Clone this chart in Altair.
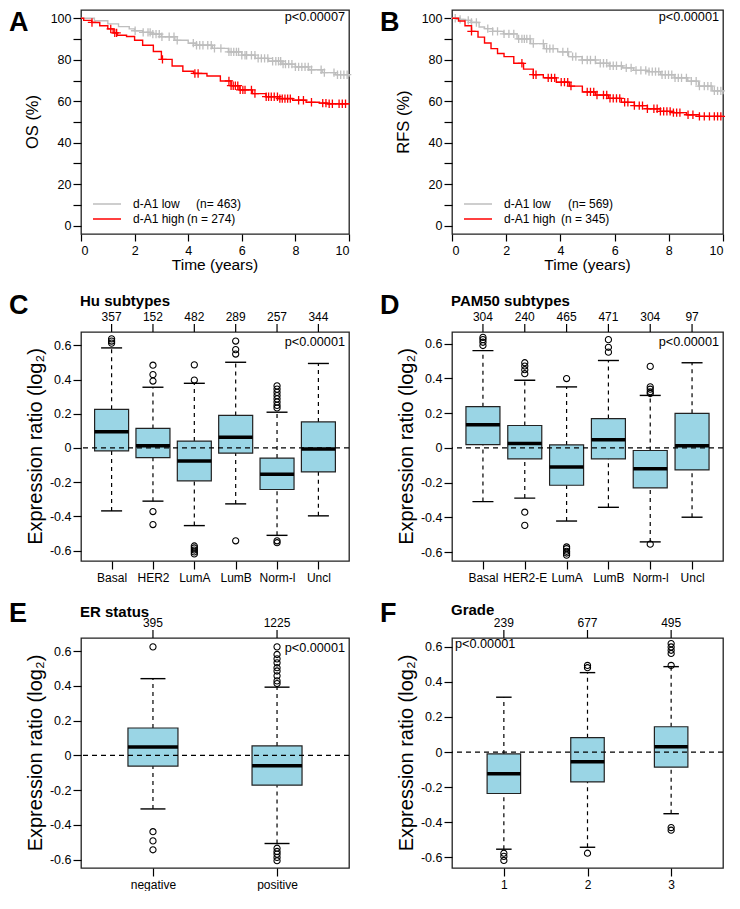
import altair as alt
import numpy as np
import pandas as pd

FONT = "Liberation Sans"
GREY = "#bebebe"
RED = "#ff0000"
BOXFILL = "#9ad5e5"
PLUS = "M-1,0L1,0M0,-1L0,1"

# ---------------- A: overall survival (OS) ----------------
os_low_t = [0, 0.5, 1.0, 1.4, 1.8, 2.0, 2.3, 2.6, 3.0, 3.5, 4.0, 4.3, 4.9, 5.5, 6.0, 6.5, 7.0, 7.5, 8.0, 8.5, 9.0, 9.5, 10.0]
os_low_s = [100, 98.8, 97.3, 96.0, 94.9, 94.0, 93.2, 92.4, 91.1, 89.4, 88.0, 87.0, 85.5, 83.8, 82.2, 80.7, 79.3, 77.9, 76.6, 75.2, 73.8, 72.8, 71.8]
os_low_cens = [2.02, 2.32, 2.5, 2.58, 2.68, 2.8, 2.92, 3.02, 3.29, 3.47, 3.59, 4.19, 4.31, 4.43, 4.55, 4.73,
               4.86, 4.98, 5.22, 5.52, 5.6, 5.7, 5.8, 5.88, 6.0, 6.12, 6.18, 6.36, 6.49, 6.61, 6.73, 6.85,
               6.97, 7.15, 7.27, 7.37, 7.45, 7.54, 7.63, 7.75, 7.87, 8.0, 8.12, 8.24, 8.36, 8.48, 8.6,
               8.96, 9.08, 9.44, 9.57, 9.69, 9.81, 9.93]
os_high_t = [0, 0.1, 0.4, 0.7, 1.0, 1.2, 1.35, 1.7, 2.0, 2.3, 2.7, 3.0, 3.4, 3.8, 4.2, 4.7, 5.2, 5.6, 5.9, 6.4, 6.9, 7.4, 7.9, 8.4, 8.9, 9.2, 10.0]
os_high_s = [100, 99.0, 98.0, 96.4, 94.9, 93.0, 91.8, 91.2, 89.4, 87.0, 84.0, 80.2, 77.0, 74.5, 73.4, 72.2, 69.8, 67.5, 65.5, 63.7, 62.2, 61.3, 60.5, 59.5, 59.1, 58.8, 58.8]
os_high_cens = [0.41, 1.11, 1.26, 1.33, 3.04, 4.25, 4.37, 5.52, 5.6, 5.68, 5.76, 5.85, 5.94, 6.04, 6.12, 6.36,
                6.49, 6.91, 7.0, 7.1, 7.21, 7.33, 7.42, 7.51, 7.61, 7.71, 7.81, 8.12, 8.3, 8.6, 9.02, 9.14,
                9.26, 9.38, 9.63, 9.75, 9.87]

# ---------------- B: relapse-free survival (RFS) ----------------
rfs_low_t = [0, 0.3, 0.5, 0.7, 1.0, 1.2, 1.5, 1.9, 2.4, 2.9, 3.4, 3.9, 4.3, 4.8, 5.3, 5.8, 6.3, 6.7, 7.2, 7.7, 8.2, 8.7, 9.1, 9.6, 10.0]
rfs_low_s = [100, 99.5, 99.0, 98.0, 95.8, 95.0, 93.7, 92.5, 90.1, 87.8, 85.4, 83.8, 81.5, 79.9, 78.3, 77.1, 76.1, 74.9, 74.3, 72.8, 71.3, 69.7, 67.3, 65.0, 63.4]
rfs_low_cens = [0.12, 0.3, 0.6, 0.72, 0.9, 1.32, 1.5, 1.68, 1.92, 2.1, 2.28, 2.46, 2.58, 2.67, 2.76, 2.88, 3.0,
                3.37, 3.49, 3.61, 3.73, 4.09, 4.27, 4.45, 4.57, 4.81, 4.99, 5.11, 5.29, 5.47, 5.59, 5.71,
                5.83, 5.95, 6.07, 6.25, 6.43, 6.61, 6.79, 6.97, 7.15, 7.27, 7.39, 7.51, 7.63, 7.75, 7.87,
                7.99, 8.11, 8.23, 8.35, 8.47, 8.65, 8.83, 9.01, 9.13, 9.31, 9.44, 9.56, 9.68, 9.8, 9.92]
rfs_high_t = [0, 0.24, 0.48, 0.72, 0.96, 1.2, 1.44, 1.68, 1.92, 2.28, 2.64, 3.0, 3.37, 3.85, 4.33, 4.81, 5.29, 5.77, 6.25, 6.73, 7.21, 7.69, 8.17, 8.65, 9.13, 10.0]
rfs_high_s = [100, 98.7, 96.4, 93.7, 90.9, 88.1, 85.4, 83.0, 81.5, 78.3, 75.5, 72.8, 71.3, 69.2, 67.3, 64.5, 63.0, 61.4, 59.5, 57.9, 56.4, 55.1, 54.5, 53.5, 52.7, 52.4]
rfs_high_cens = [0.72, 2.58, 3.0, 3.1, 3.55, 3.67, 3.79, 4.03, 4.15, 4.27, 4.39, 4.99, 5.11, 5.23, 5.35, 5.59,
                 5.71, 5.83, 5.95, 6.07, 6.19, 6.37, 6.49, 6.73, 6.91, 7.03, 7.21, 7.45, 7.57, 7.69, 7.81,
                 7.93, 8.05, 8.17, 8.29, 8.41, 8.71, 8.89, 9.13, 9.31, 9.5, 9.68, 9.8, 9.92]

# ---------------- C: Hu subtypes ----------------
hu_cats = ["Basal", "HER2", "LumA", "LumB", "Norm-l", "Uncl"]
hu_n = [357, 152, 482, 289, 257, 344]
hu_hi = [0.585, 0.355, 0.378, 0.501, 0.209, 0.494]
hu_q3 = [0.226, 0.114, 0.040, 0.190, -0.059, 0.152]
hu_med = [0.095, 0.013, -0.076, 0.063, -0.154, -0.006]
hu_q1 = [-0.017, -0.057, -0.192, -0.030, -0.243, -0.140]
hu_lo = [-0.368, -0.311, -0.454, -0.327, -0.511, -0.397]
hu_out = {"Basal": [0.638, 0.625, 0.613],
          "HER2": [0.484, 0.429, 0.391, -0.372, -0.448],
          "LumA": [0.486, 0.397, -0.573, -0.585, -0.597, -0.608, -0.62],
          "LumB": [0.625, 0.575, 0.549, -0.543],
          "Norm-l": [0.363, 0.344, 0.325, 0.306, 0.287, 0.268, 0.249, 0.234, -0.543, -0.554],
          "Uncl": []}

# ---------------- D: PAM50 subtypes ----------------
pam_cats = ["Basal", "HER2-E", "LumA", "LumB", "Norm-l", "Uncl"]
pam_n = [304, 240, 465, 471, 304, 97]
pam_hi = [0.560, 0.389, 0.351, 0.503, 0.302, 0.490]
pam_q3 = [0.237, 0.129, 0.017, 0.169, -0.015, 0.199]
pam_med = [0.133, 0.025, -0.110, 0.047, -0.120, 0.013]
pam_q1 = [0.019, -0.063, -0.215, -0.063, -0.230, -0.127]
pam_lo = [-0.309, -0.289, -0.421, -0.342, -0.541, -0.399]
pam_out = {"Basal": [0.636, 0.623, 0.608, 0.589],
           "HER2-E": [0.49, 0.471, 0.45, 0.427, -0.37, -0.446],
           "LumA": [0.399, -0.57, -0.58, -0.595, -0.605, -0.617],
           "LumB": [0.623, 0.579, 0.551],
           "Norm-l": [0.469, 0.351, 0.338, 0.323, 0.313, -0.554],
           "Uncl": []}

# ---------------- E: ER status ----------------
er_cats = ["negative", "positive"]
er_n = [395, 1225]
er_hi = [0.442, 0.393]
er_q3 = [0.158, 0.055]
er_med = [0.049, -0.059]
er_q1 = [-0.061, -0.171]
er_lo = [-0.308, -0.507]
er_out = {"negative": [0.625, -0.439, -0.492, -0.543],
          "positive": [0.625, 0.581, 0.556, 0.533, 0.505, 0.486, 0.458, 0.429, 0.414,
                       -0.534, -0.553, -0.568, -0.587, -0.606]}

# ---------------- F: Grade ----------------
gr_cats = ["1", "2", "3"]
gr_n = [239, 677, 495]
gr_hi = [0.312, 0.452, 0.486]
gr_q3 = [-0.011, 0.082, 0.144]
gr_med = [-0.123, -0.056, 0.030]
gr_q1 = [-0.236, -0.170, -0.086]
gr_lo = [-0.553, -0.542, -0.351]
gr_out = {"1": [-0.576, -0.594, -0.617],
          "2": [0.493, 0.48, -0.576],
          "3": [0.617, 0.598, 0.579, 0.561, 0.493, -0.43, -0.445]}


def step_at(ts, ss, tc):
    ts = np.asarray(ts, dtype=float)
    ss = np.asarray(ss, dtype=float)
    idx = np.searchsorted(ts, np.asarray(tc, dtype=float), side="right") - 1
    return ss[np.clip(idx, 0, len(ss) - 1)]


def label(text, x, y, size=12.5, weight="normal", align="left", baseline="middle", angle=0):
    return alt.Chart(pd.DataFrame({"txt": [text]})).mark_text(
        font=FONT, fontSize=size, fontWeight=weight, align=align, baseline=baseline,
        angle=angle, color="black"
    ).encode(x=alt.value(x), y=alt.value(y), text="txt:N")


def legend_line(x1, x2, y, col):
    return alt.Chart(pd.DataFrame({"k": [0]})).mark_rule(color=col, strokeWidth=1.5).encode(
        x=alt.value(x1), x2=alt.value(x2), y=alt.value(y))


def km_panel(w, h, low, high, ytitle, pval, letter, leg):
    xs = alt.Scale(domain=[0, 10], nice=False, zero=False)
    ys = alt.Scale(domain=[-4, 104], nice=False, zero=False)
    xax = alt.Axis(values=[0, 2, 4, 6, 8, 10], title=None, labelFontSize=12.5, tickSize=7, labelPadding=3)
    yax = alt.Axis(values=list(range(0, 101, 10)), title=None,
                   labelExpr="datum.value % 20 === 0 ? datum.label : ''",
                   tickSize=8, labelPadding=2, labelFontSize=12.5)
    X = alt.X("t:Q", scale=xs, axis=xax)
    Y = alt.Y("s:Q", scale=ys, axis=yax)
    layers = []
    for (ts, ss, cs), col in [(low, GREY), (high, RED)]:
        layers.append(alt.Chart(pd.DataFrame({"t": ts, "s": ss})).mark_line(
            interpolate="step-after", color=col, strokeWidth=1.4).encode(X, Y))
        layers.append(alt.Chart(pd.DataFrame({"t": cs, "s": step_at(ts, ss, cs)})).mark_point(
            shape=PLUS, filled=False, size=70, color=col, strokeWidth=1.3, opacity=1).encode(X, Y))
    layers += [
        legend_line(12, 40, 194, GREY),
        legend_line(12, 40, 209, RED),
        label("d-A1 low", 52, 194, 12),
        label(leg[0], leg[2], 194, 12),
        label("d-A1 high", 52, 209, 12),
        label(leg[1], leg[3], 209, 12),
        label(pval, w - 4, 7, 12.7, align="right"),
        label(letter, -72, 0, 27, weight="bold", baseline="top"),
        label(ytitle, -48, h / 2, 16.5, align="center", angle=270),
        label("Time (years)", w / 2, 255, 15.5, align="center"),
    ]
    return alt.layer(*layers).properties(width=w, height=h)


def box_panel(w, h, cats, counts, lo, q1, med, q3, hi, outs, title, letter, pval, pv_left,
              pad, boxw, capw, ydom, letter_y, title_y, pv_y):
    df = pd.DataFrame({"cat": cats, "n": [str(c) for c in counts], "lo": lo, "q1": q1,
                       "med": med, "q3": q3, "hi": hi})
    oc, ov = [], []
    for c in cats:
        for v in outs[c]:
            oc.append(c)
            ov.append(v)
    odf = pd.DataFrame({"cat": oc, "v": ov})
    xs = alt.Scale(type="point", domain=cats, padding=pad)
    xax = alt.Axis(title=None, labelAngle=0, tickSize=8, labelPadding=3, labelFontSize=12)
    ys = alt.Scale(domain=ydom, nice=False, zero=False)
    yax = alt.Axis(values=[-0.6, -0.4, -0.2, 0, 0.2, 0.4, 0.6], title=None, tickSize=8, labelPadding=2,
                   labelFontSize=12.5,
                   labelExpr="(datum.value < 0 ? '-' : '') + (datum.value == 0 ? '0' : format(abs(datum.value), '.1f'))")
    X = alt.X("cat:N", scale=xs, axis=xax, sort=cats)

    def Y(f):
        return alt.Y(f + ":Q", scale=ys, axis=yax)

    base = alt.Chart(df)
    dash = [4, 4]
    layers = [
        base.mark_rule(color="black", strokeWidth=1.2, strokeDash=dash).encode(X, Y("q3"), y2="hi:Q"),
        base.mark_rule(color="black", strokeWidth=1.2, strokeDash=dash).encode(X, Y("lo"), y2="q1:Q"),
        base.mark_tick(orient="horizontal", size=capw, thickness=1.4, color="black", opacity=1).encode(X, Y("hi")),
        base.mark_tick(orient="horizontal", size=capw, thickness=1.4, color="black", opacity=1).encode(X, Y("lo")),
        base.mark_bar(size=boxw, fill=BOXFILL, stroke="#222", strokeWidth=1.2).encode(X, Y("q1"), y2="q3:Q"),
        alt.Chart(pd.DataFrame({"z": [0.0]})).mark_rule(color="black", strokeWidth=1.2, strokeDash=[5, 4]).encode(y=Y("z")),
        base.mark_tick(orient="horizontal", size=boxw, thickness=3.5, color="black", opacity=1).encode(X, Y("med")),
        alt.Chart(odf).mark_point(shape="circle", filled=False, size=38, color="black", strokeWidth=1.1, opacity=1).encode(X, Y("v")),
        base.mark_rule(color="black", strokeWidth=1.2).encode(X, y=alt.value(-8), y2=alt.value(0)),
        base.mark_text(font=FONT, fontSize=12, baseline="middle", color="black").encode(X, y=alt.value(-15), text="n:N"),
        label(title, -1, title_y, 15, weight="bold", baseline="top"),
        label(letter, -72, letter_y, 27, weight="bold", baseline="top"),
        label("Expression ratio (log\u2082)", -45, h / 2, 20, align="center", angle=270),
    ]
    if pv_left:
        layers.append(label(pval, 3, pv_y, 12.7, align="left"))
    else:
        layers.append(label(pval, w - 4, pv_y, 12.7, align="right"))
    return alt.layer(*layers).properties(width=w, height=h)


WL, WR = 268, 271

pA = km_panel(WL, 224, (os_low_t, os_low_s, os_low_cens), (os_high_t, os_high_s, os_high_cens),
              "OS (%)", "p<0.00007", "A", ("(n= 463)", "(n = 274)", 115, 106))
pB = km_panel(WR, 224, (rfs_low_t, rfs_low_s, rfs_low_cens), (rfs_high_t, rfs_high_s, rfs_high_cens),
              "RFS (%)", "p<0.00001", "B", ("(n= 569)", "(n = 345)", 116, 109))

pC = box_panel(WL, 229, hu_cats, hu_n, hu_lo, hu_q1, hu_med, hu_q3, hu_hi, hu_out, "Hu subtypes", "C",
               "p<0.00001", False, 0.74, 34, 21, [-0.661, 0.678], -39.5, -38.5, 9.5)
pD = box_panel(WR, 229, pam_cats, pam_n, pam_lo, pam_q1, pam_med, pam_q3, pam_hi, pam_out, "PAM50 subtypes", "D",
               "p<0.00001", False, 0.74, 34, 21, [-0.651, 0.667], -39.5, -38.5, 9.5)
pE = box_panel(WL, 230, er_cats, er_n, er_lo, er_q1, er_med, er_q3, er_hi, er_out, "ER status", "E",
               "p<0.00001", False, 0.58, 50, 25, [-0.648, 0.676], -37, -33.5, 10)
pF = box_panel(WR, 230, gr_cats, gr_n, gr_lo, gr_q1, gr_med, gr_q3, gr_hi, gr_out, "Grade", "F",
               "p<0.00001", True, 0.62, 33.5, 15.5, [-0.66, 0.649], -37, -35, 6)

row1 = alt.hconcat(pA, pB, spacing=103, bounds="flush")
row2 = alt.hconcat(pC, pD, spacing=103, bounds="flush")
row3 = alt.hconcat(pE, pF, spacing=103, bounds="flush")

chart = alt.vconcat(row1, row2, row3, spacing=15, bounds="full").properties(
    padding={"left": 0, "top": 0, "right": 0, "bottom": 0}
).configure_view(
    stroke="#222", strokeWidth=1.3
).configure_axis(
    labelFont=FONT, labelColor="black", tickColor="black", tickWidth=1.2,
    domain=False, grid=False
)

chart.save("out.html", embed_options={"renderer": "svg", "actions": False})
